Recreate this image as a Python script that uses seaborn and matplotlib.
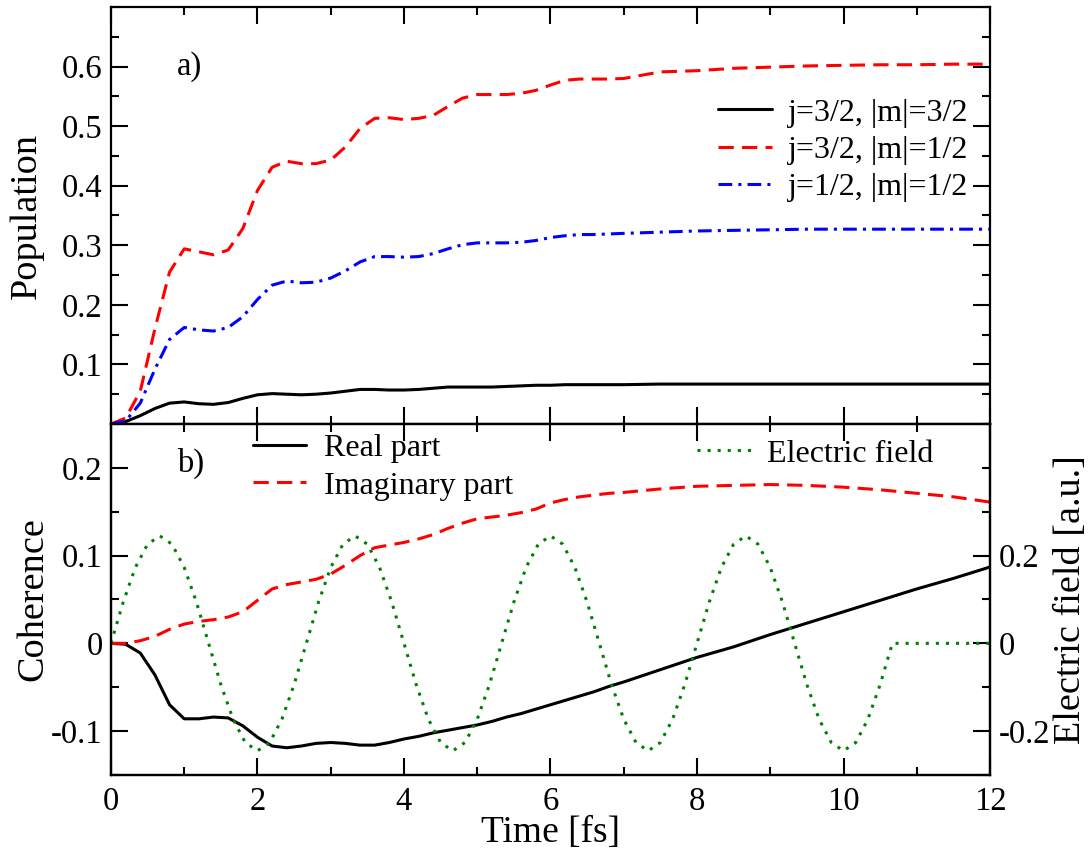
import numpy as np
import matplotlib
matplotlib.use("Agg")
import matplotlib.pyplot as plt
from matplotlib.ticker import MultipleLocator, FuncFormatter
import seaborn as sns

# time grid of the sampled curves [fs]
time = [0.0, 0.2, 0.4, 0.6, 0.8, 1.0, 1.2, 1.4, 1.6, 1.8, 2.0, 2.2, 2.4, 2.6, 2.8,
        3.0, 3.2, 3.4, 3.6, 3.8, 4.0, 4.2, 4.4, 4.6, 4.8, 5.0, 5.2, 5.4, 5.6, 5.8,
        6.0, 6.2, 6.4, 6.6, 6.8, 7.0, 7.5, 8.0, 8.5, 9.0, 9.5, 10.0, 10.5, 11.0,
        11.5, 12.0]

# a) populations
pop_j32_m32 = [0.0, 0.004, 0.014, 0.026, 0.035, 0.037, 0.034, 0.033, 0.036, 0.043,
               0.049, 0.051, 0.050, 0.049, 0.050, 0.052, 0.055, 0.058, 0.058, 0.057,
               0.057, 0.058, 0.060, 0.062, 0.062, 0.062, 0.062, 0.063, 0.064, 0.065,
               0.065, 0.066, 0.066, 0.066, 0.066, 0.066, 0.067, 0.067, 0.067, 0.067,
               0.067, 0.067, 0.067, 0.067, 0.067, 0.067]
pop_j32_m12 = [0.0, 0.010, 0.055, 0.160, 0.255, 0.294, 0.289, 0.284, 0.292, 0.328,
               0.392, 0.431, 0.441, 0.437, 0.437, 0.443, 0.465, 0.496, 0.513, 0.514,
               0.511, 0.513, 0.518, 0.533, 0.547, 0.553, 0.553, 0.553, 0.555, 0.560,
               0.569, 0.577, 0.579, 0.579, 0.579, 0.580, 0.591, 0.593, 0.597, 0.599,
               0.601, 0.602, 0.603, 0.603, 0.604, 0.604]
pop_j12_m12 = [0.0, 0.005, 0.035, 0.092, 0.142, 0.162, 0.158, 0.156, 0.162, 0.180,
               0.209, 0.233, 0.240, 0.237, 0.238, 0.245, 0.257, 0.272, 0.281, 0.281,
               0.280, 0.281, 0.286, 0.294, 0.301, 0.304, 0.304, 0.304, 0.305, 0.308,
               0.313, 0.316, 0.318, 0.318, 0.319, 0.320, 0.322, 0.324, 0.325, 0.326,
               0.327, 0.327, 0.327, 0.327, 0.327, 0.327]

# b) coherence
coh_real = [0.0, -0.001, -0.011, -0.036, -0.070, -0.086, -0.086, -0.084, -0.085, -0.094,
            -0.107, -0.117, -0.119, -0.117, -0.114, -0.113, -0.114, -0.116, -0.116, -0.113,
            -0.109, -0.106, -0.102, -0.099, -0.096, -0.093, -0.089, -0.084, -0.080, -0.075,
            -0.070, -0.065, -0.060, -0.055, -0.049, -0.044, -0.030, -0.016, -0.004, 0.010,
            0.023, 0.036, 0.049, 0.062, 0.074, 0.087]
coh_imag = [0.0, 0.000, 0.003, 0.008, 0.016, 0.022, 0.025, 0.027, 0.030, 0.036,
            0.049, 0.062, 0.067, 0.070, 0.073, 0.079, 0.089, 0.100, 0.109, 0.112,
            0.115, 0.119, 0.124, 0.131, 0.137, 0.142, 0.144, 0.146, 0.149, 0.153,
            0.160, 0.164, 0.167, 0.169, 0.171, 0.172, 0.176, 0.179, 0.180, 0.181,
            0.180, 0.178, 0.175, 0.171, 0.167, 0.161]

# electric field (right axis)
field_time = [0.0, 0.167, 0.333, 0.5, 0.667, 0.833, 1.0, 1.167, 1.333, 1.5, 1.667, 1.833,
              2.0, 2.167, 2.333, 2.5, 2.667, 2.833, 3.0, 3.167, 3.333, 3.5, 3.667, 3.833,
              4.0, 4.167, 4.333, 4.5, 4.667, 4.833, 5.0, 5.167, 5.333, 5.5, 5.667, 5.833,
              6.0, 6.167, 6.333, 6.5, 6.667, 6.833, 7.0, 7.167, 7.333, 7.5, 7.667, 7.833,
              8.0, 8.167, 8.333, 8.5, 8.667, 8.833, 9.0, 9.167, 9.333, 9.5, 9.667, 9.833,
              10.0, 10.167, 10.333, 10.5, 10.667, 12.0]
field = [0.0, 0.094, 0.173, 0.226, 0.245, 0.226, 0.173, 0.094,
         0.0, -0.094, -0.173, -0.226, -0.245, -0.226, -0.173, -0.094,
         0.0, 0.094, 0.173, 0.226, 0.245, 0.226, 0.173, 0.094,
         0.0, -0.094, -0.173, -0.226, -0.245, -0.226, -0.173, -0.094,
         0.0, 0.094, 0.173, 0.226, 0.245, 0.226, 0.173, 0.094,
         0.0, -0.094, -0.173, -0.226, -0.245, -0.226, -0.173, -0.094,
         0.0, 0.094, 0.173, 0.226, 0.245, 0.226, 0.173, 0.094,
         0.0, -0.094, -0.173, -0.226, -0.245, -0.226, -0.173, -0.094,
         0.0, 0.0]

sns.set_style("ticks")
plt.rcParams['font.family'] = ['Liberation Serif', 'DejaVu Serif']
plt.rcParams['axes.unicode_minus'] = False
plt.rcParams['axes.linewidth'] = 1.6
for k in ['text.color', 'axes.labelcolor', 'xtick.color', 'ytick.color', 'axes.edgecolor']:
    plt.rcParams[k] = 'black'

lw = 2.2
fmt = FuncFormatter(lambda v, p: '0' if abs(v) < 1e-9 else f'{v:g}')

fig = plt.figure(figsize=(10.89, 8.49), dpi=100)
ax_a = fig.add_axes([0.1019, 0.5006, 0.8072, 0.4912])
ax_b = fig.add_axes([0.1019, 0.0872, 0.8072, 0.4134], sharex=ax_a)
ax_e = ax_b.twinx()

# ----- panel a -----
sns.lineplot(x=time, y=pop_j32_m32, ax=ax_a, color='black', lw=lw,
             label='j=3/2, |m|=3/2', errorbar=None)
sns.lineplot(x=time, y=pop_j32_m12, ax=ax_a, color='red', lw=lw,
             linestyle=(0, (5, 2.7)), label='j=3/2, |m|=1/2', errorbar=None)
sns.lineplot(x=time, y=pop_j12_m12, ax=ax_a, color='blue', lw=lw,
             linestyle=(0, (4.5, 2, 1, 2)), label='j=1/2, |m|=1/2', errorbar=None)

ax_a.set_xlim(0, 12)
ax_a.set_ylim(0, 0.7)
ax_a.set_yticks([0.1, 0.2, 0.3, 0.4, 0.5, 0.6])
ax_a.yaxis.set_minor_locator(MultipleLocator(0.05))
ax_a.xaxis.set_major_locator(MultipleLocator(2))
ax_a.xaxis.set_minor_locator(MultipleLocator(1))
ax_a.yaxis.set_major_formatter(fmt)
ax_a.tick_params(which='both', direction='in', top=True, right=True, bottom=True,
                 labelbottom=False, labelsize=23.5, width=1.5, pad=6)
ax_a.tick_params(which='major', length=12)
ax_a.tick_params(which='minor', length=6)
ax_a.set_ylabel('Population', fontsize=27.5)
ax_a.yaxis.set_label_coords(-0.076, 0.5)
ax_a.set_xlabel('')
ax_a.text(0.075, 0.858, 'a)', transform=ax_a.transAxes, fontsize=23.5, va='center')
ax_a.legend(loc='center right', bbox_to_anchor=(0.975, 0.657), frameon=False,
            fontsize=23, borderaxespad=0, borderpad=0, handlelength=1.67,
            handletextpad=0.5, labelspacing=0.24)

# ----- panel b -----
sns.lineplot(x=time, y=coh_real, ax=ax_b, color='black', lw=lw,
             label='Real part', errorbar=None)
sns.lineplot(x=time, y=coh_imag, ax=ax_b, color='red', lw=lw,
             linestyle=(0, (5, 2.7)), label='Imaginary part', errorbar=None)
sns.lineplot(x=field_time, y=field, ax=ax_e, color='green', lw=lw,
             linestyle=(0, (1, 2.3)), label='Electric field', errorbar=None)

ax_b.set_ylim(-0.15, 0.25)
ax_b.yaxis.set_major_locator(MultipleLocator(0.1))
ax_b.yaxis.set_minor_locator(MultipleLocator(0.05))
ax_b.xaxis.set_major_formatter(fmt)
ax_b.yaxis.set_major_formatter(fmt)
ax_b.tick_params(which='both', direction='in', top=True, right=False, bottom=True,
                 labelsize=23.5, width=1.5, pad=6)
ax_b.tick_params(axis='x', which='major', pad=8)
ax_b.tick_params(which='major', length=12)
ax_b.tick_params(which='minor', length=6)
ax_b.set_ylabel('Coherence', fontsize=27.5)
ax_b.yaxis.set_label_coords(-0.069, 0.5)
ax_b.set_xlabel('Time [fs]', fontsize=27)
ax_b.xaxis.set_label_coords(0.5, -0.116)
ax_b.text(0.075, 0.889, 'b)', transform=ax_b.transAxes, fontsize=23.5, va='center')
ax_b.legend(loc='center left', bbox_to_anchor=(0.1615, 0.877), frameon=False,
            fontsize=23, borderaxespad=0, borderpad=0, handlelength=1.67,
            handletextpad=0.55, labelspacing=0.26)

ax_e.set_ylim(-0.3, 0.5)
ax_e.set_yticks([-0.2, 0, 0.2])
ax_e.yaxis.set_minor_locator(MultipleLocator(0.1))
ax_e.yaxis.set_major_formatter(fmt)
ax_e.tick_params(which='both', direction='in', left=False, right=True,
                 labelsize=23.5, width=1.5, pad=6)
ax_e.tick_params(which='major', length=12)
ax_e.tick_params(which='minor', length=6)
ax_e.set_ylabel('Electric field [a.u.]', fontsize=27.5)
ax_e.yaxis.set_label_coords(1.072, 0.5)
ax_e.legend(loc='center left', bbox_to_anchor=(0.667, 0.915), frameon=False,
            fontsize=23, borderaxespad=0, borderpad=0, handlelength=1.67,
            handletextpad=0.5)

fig.savefig('out.png', dpi=100)
